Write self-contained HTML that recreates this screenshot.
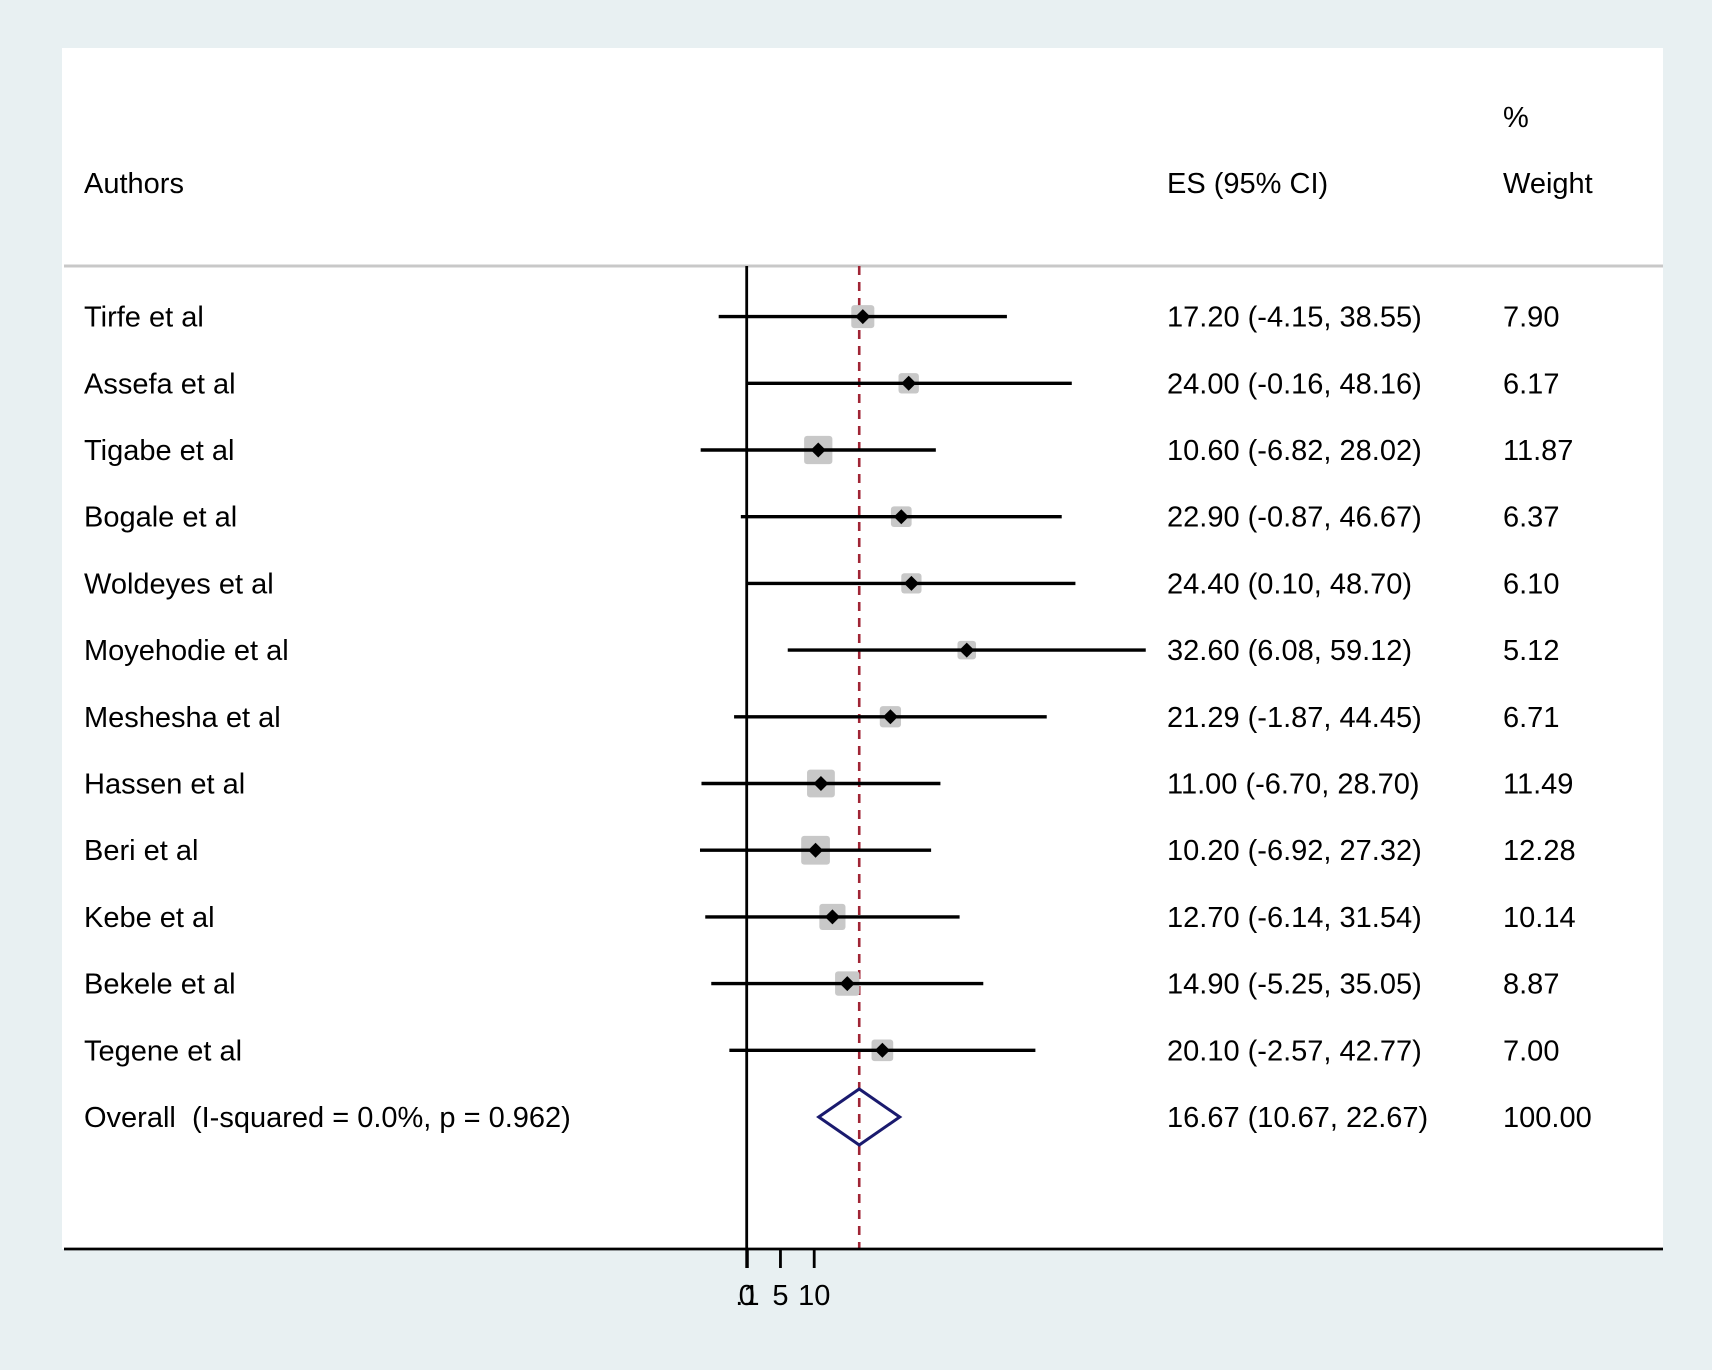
<!DOCTYPE html>
<html><head><meta charset="utf-8"><style>
body{margin:0;background:#e8f0f2;}
svg{display:block;font-family:"Liberation Sans",Arial,sans-serif;}
text{white-space:pre;}
</style></head><body>
<svg id="chart" width="1712" height="1370">
<rect x="0" y="0" width="1712" height="1370" fill="#e8f0f2"/>
<rect x="62" y="48" width="1601" height="1201" fill="#ffffff"/>
<text x="84" y="193" font-size="29">Authors</text>
<text x="1167" y="193" font-size="29">ES (95% CI)</text>
<text x="1503" y="127" font-size="29">%</text>
<text x="1503" y="193" font-size="29">Weight</text>
<line x1="64" y1="266" x2="1663" y2="266" stroke="#c8c8c8" stroke-width="3"/>
<g id="marks"></g>
</svg>
<script>
const studies=["Tirfe et al","Assefa et al","Tigabe et al","Bogale et al","Woldeyes et al","Moyehodie et al","Meshesha et al","Hassen et al","Beri et al","Kebe et al","Bekele et al","Tegene et al"];
const es=[17.20,24.00,10.60,22.90,24.40,32.60,21.29,11.00,10.20,12.70,14.90,20.10];
const lo=[-4.15,-0.16,-6.82,-0.87,0.10,6.08,-1.87,-6.70,-6.92,-6.14,-5.25,-2.57];
const hi=[38.55,48.16,28.02,46.67,48.70,59.12,44.45,28.70,27.32,31.54,35.05,42.77];
const weights=[7.90,6.17,11.87,6.37,6.10,5.12,6.71,11.49,12.28,10.14,8.87,7.00];
const overall=[16.67,10.67,22.67];
const overallLabel="Overall  (I-squared = 0.0%, p = 0.962)";
const xTicks=[0,0.1,5,10];
const xTickLabels=["0",".1","5","10"];
const NS="http://www.w3.org/2000/svg";
const g=document.getElementById('marks');
const X=v=>746.7+v*6.75;
const Y=i=>316.6+i*66.7;
const FS=29;
function mk(t,a,txt){const e=document.createElementNS(NS,t);for(const k in a)e.setAttribute(k,a[k]);if(txt!==undefined)e.textContent=txt;g.appendChild(e);return e;}
const f=v=>v.toFixed(2);
let e=mk('line',{x1:X(0),y1:266,x2:X(0),y2:1249,stroke:'#000','stroke-width':2.8});


e=mk('line',{x1:X(overall[0]),y1:266,x2:X(overall[0]),y2:1249,stroke:'#a02535','stroke-width':2.6,'stroke-dasharray':'9 7'});


studies.forEach((s,i)=>{
  const y=Y(i);
  let t=mk('text',{x:84,y:y+10,'font-size':FS},s);
  
  
  const sd=8.2*Math.sqrt(weights[i]);
  let r=mk('rect',{x:X(es[i])-sd/2,y:y-sd/2,width:sd,height:sd,rx:3,fill:'#c8c8c8'});
  
  
  let l=mk('line',{x1:X(lo[i]),y1:y,x2:X(hi[i]),y2:y,stroke:'#000','stroke-width':3.4});
  
  
  const cx=X(es[i]);
  let p=mk('polygon',{points:`${cx-7.5},${y} ${cx},${y-7.5} ${cx+7.5},${y} ${cx},${y+7.5}`,fill:'#000'});
  
  
  t=mk('text',{x:1167,y:y+10,'font-size':FS},`${f(es[i])} (${f(lo[i])}, ${f(hi[i])})`);
  
  
  t=mk('text',{x:1503,y:y+10,'font-size':FS},f(weights[i]));
  
  
});
const oy=Y(studies.length);
let t=mk('text',{x:84,y:oy+10,'font-size':FS},overallLabel);


let d=mk('polygon',{points:`${X(overall[1])},${oy} ${X(overall[0])},${oy-28} ${X(overall[2])},${oy} ${X(overall[0])},${oy+28}`,fill:'none',stroke:'#1a1a6e','stroke-width':3});


t=mk('text',{x:1167,y:oy+10,'font-size':FS},`${f(overall[0])} (${f(overall[1])}, ${f(overall[2])})`);


t=mk('text',{x:1503,y:oy+10,'font-size':FS},"100.00");


let ax=mk('line',{x1:64,y1:1249,x2:1663,y2:1249,stroke:'#000','stroke-width':2.8});


xTicks.forEach((v,i)=>{
  let tk=mk('line',{x1:X(v),y1:1249,x2:X(v),y2:1268,stroke:'#000','stroke-width':2.8});
  
  
  let tl=mk('text',{x:X(v),y:1305,'font-size':FS,'text-anchor':'middle'},xTickLabels[i]);
  
  
});
</script>
</body></html>
